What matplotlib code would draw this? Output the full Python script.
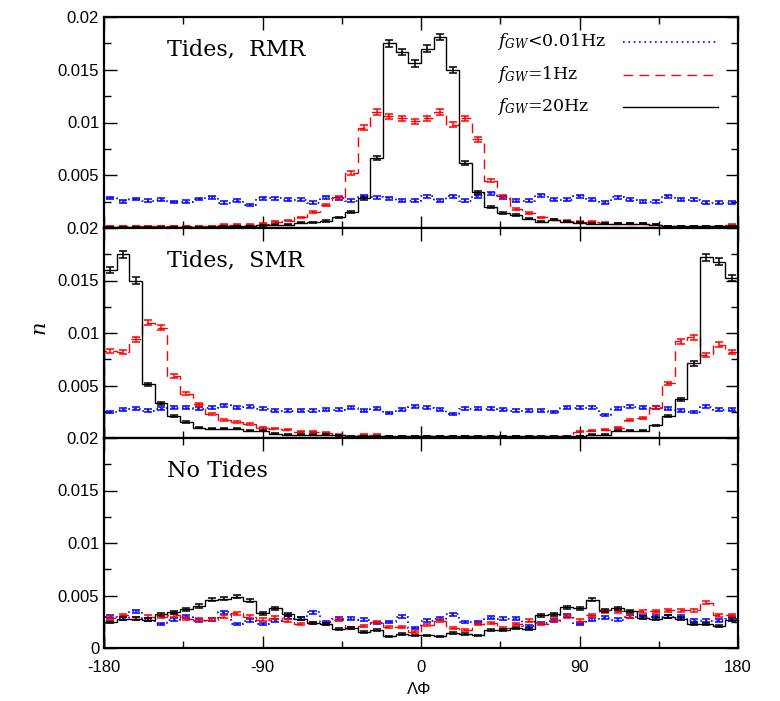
import numpy as np
import matplotlib
matplotlib.use("Agg")
import matplotlib.pyplot as plt

plt.rcParams['font.family'] = ['Liberation Sans', 'DejaVu Sans']
plt.rcParams['mathtext.fontset'] = 'dejavuserif'

# 50 bins of 7.2 deg from -180 to 180
edges = np.linspace(-180, 180, 51)
centers = 0.5 * (edges[1:] + edges[:-1])

# --- Tides, RMR ---
rmr_20hz = [0.0001, 0.0001, 0.0001, 0.0001, 0.0001, 0.0001, 0.0001, 0.0001, 0.0001, 0.00015,
            0.0002, 0.0002, 0.00025, 0.0003, 0.0003, 0.0005, 0.00055, 0.00067, 0.001, 0.0015,
            0.0028, 0.0066, 0.0175, 0.0167, 0.0156, 0.017, 0.0181, 0.015, 0.0062, 0.0034,
            0.002, 0.0014, 0.0012, 0.0009, 0.0006, 0.0008, 0.0006, 0.0005, 0.0004, 0.0004,
            0.0004, 0.0004, 0.0004, 0.0003, 0.0002, 0.0002, 0.0002, 0.0002, 0.0002, 0.0002]
rmr_1hz = [0.0002, 0.0002, 0.0002, 0.0002, 0.0002, 0.0002, 0.0002, 0.0002, 0.0002, 0.0003,
           0.0003, 0.0003, 0.0004, 0.0006, 0.0007, 0.001, 0.0015, 0.0022, 0.0029, 0.0052,
           0.0095, 0.011, 0.0106, 0.0104, 0.0101, 0.0104, 0.011, 0.0098, 0.0104, 0.0084,
           0.0045, 0.003, 0.0018, 0.0014, 0.001, 0.0008, 0.0007, 0.0006, 0.0006, 0.0005,
           0.0004, 0.0004, 0.0004, 0.0003, 0.0002, 0.0002, 0.0002, 0.0002, 0.0002, 0.0003]
rmr_low = [0.00285, 0.00253, 0.00275, 0.0026, 0.0027, 0.00244, 0.0025, 0.00275, 0.0029, 0.0024,
           0.0026, 0.0022, 0.0028, 0.0028, 0.0027, 0.0027, 0.0024, 0.0029, 0.0028, 0.0026,
           0.003, 0.0029, 0.0028, 0.0026, 0.0026, 0.003, 0.0026, 0.003, 0.0026, 0.003,
           0.0033, 0.0029, 0.0026, 0.0026, 0.0031, 0.0027, 0.0027, 0.003, 0.0027, 0.0024,
           0.0029, 0.0027, 0.0025, 0.0025, 0.003, 0.0027, 0.0027, 0.0024, 0.0024, 0.0024]

# --- Tides, SMR ---
smr_20hz = [0.016, 0.0175, 0.015, 0.0051, 0.0033, 0.0021, 0.0015, 0.001, 0.0009, 0.0009,
            0.0009, 0.0007, 0.0007, 0.0004, 0.0003, 0.0003, 0.0003, 0.0003, 0.00025, 0.0002,
            0.0002, 0.0002, 0.0002, 0.0002, 0.0002, 0.0002, 0.0002, 0.0002, 0.0002, 0.0002,
            0.0002, 0.0002, 0.0002, 0.00015, 0.00015, 0.00015, 0.00015, 0.0002, 0.0003, 0.0003,
            0.0007, 0.0007, 0.0007, 0.0012, 0.0021, 0.0037, 0.0071, 0.0172, 0.0168, 0.0152]
smr_1hz = [0.0083, 0.0082, 0.0094, 0.011, 0.0105, 0.0059, 0.0042, 0.0032, 0.0023, 0.0017,
           0.0015, 0.0013, 0.001, 0.0009, 0.0008, 0.0006, 0.0006, 0.0005, 0.0003, 0.0002,
           0.0003, 0.0003, 0.0002, 0.0002, 0.0002, 0.0002, 0.0002, 0.0002, 0.0002, 0.0002,
           0.0002, 0.0002, 0.0002, 0.0002, 0.0002, 0.0002, 0.0002, 0.0006, 0.0007, 0.0008,
           0.001, 0.0017, 0.0019, 0.0029, 0.0052, 0.0092, 0.0096, 0.0079, 0.0089, 0.0082]
smr_low = [0.0025, 0.0027, 0.0028, 0.0026, 0.0028, 0.0029, 0.0029, 0.0028, 0.0029, 0.0031,
           0.0029, 0.003, 0.0028, 0.0026, 0.0026, 0.0026, 0.0026, 0.0027, 0.0027, 0.0029,
           0.0026, 0.0028, 0.0024, 0.0027, 0.003, 0.0029, 0.0027, 0.0023, 0.0028, 0.0028,
           0.0028, 0.0027, 0.0026, 0.0026, 0.0026, 0.0025, 0.0029, 0.0029, 0.0029, 0.0022,
           0.0028, 0.003, 0.0029, 0.0029, 0.0028, 0.0026, 0.0025, 0.003, 0.0027, 0.0027]

# --- No Tides ---
not_20hz = [0.0025, 0.0028, 0.0028, 0.0027, 0.0032, 0.0034, 0.0037, 0.004, 0.0046, 0.0047,
            0.0049, 0.0045, 0.0033, 0.0038, 0.0032, 0.0028, 0.0024, 0.0023, 0.0018, 0.0019,
            0.0015, 0.0017, 0.0011, 0.0013, 0.0012, 0.0012, 0.0011, 0.0014, 0.0013, 0.0012,
            0.0017, 0.0017, 0.0019, 0.0018, 0.0031, 0.0032, 0.0039, 0.0038, 0.0046, 0.0036,
            0.0038, 0.0035, 0.0029, 0.0028, 0.003, 0.0028, 0.0023, 0.0023, 0.0021, 0.0027]
not_1hz = [0.0029, 0.0031, 0.0028, 0.003, 0.003, 0.0031, 0.0028, 0.0027, 0.0027, 0.003,
           0.0033, 0.003, 0.0027, 0.0029, 0.0026, 0.0023, 0.0024, 0.0023, 0.0027, 0.0019,
           0.0021, 0.0025, 0.002, 0.002, 0.0015, 0.0022, 0.0026, 0.0019, 0.0017, 0.0023,
           0.0024, 0.0019, 0.0023, 0.0026, 0.0023, 0.0027, 0.003, 0.0026, 0.0031, 0.0035,
           0.0035, 0.003, 0.0035, 0.0035, 0.0036, 0.0036, 0.0036, 0.0043, 0.0031, 0.0031]
not_low = [0.003, 0.0028, 0.0035, 0.0027, 0.0023, 0.0027, 0.003, 0.0026, 0.0027, 0.0034,
           0.0023, 0.0026, 0.0023, 0.0026, 0.0029, 0.0028, 0.0034, 0.0025, 0.0028, 0.0028,
           0.0027, 0.0024, 0.0025, 0.003, 0.0019, 0.0026, 0.0028, 0.0032, 0.0025, 0.0025,
           0.0029, 0.0028, 0.0028, 0.0021, 0.0024, 0.0026, 0.0031, 0.0023, 0.0027, 0.0029,
           0.0027, 0.003, 0.003, 0.003, 0.003, 0.003, 0.0026, 0.0026, 0.0026, 0.0028]

panel_titles = ["Tides,  RMR", "Tides,  SMR", "No Tides"]
panel_data = [(rmr_low, rmr_1hz, rmr_20hz),
              (smr_low, smr_1hz, smr_20hz),
              (not_low, not_1hz, not_20hz)]
legend_labels = [r"$f_{GW}$<0.01Hz", r"$f_{GW}$=1Hz", r"$f_{GW}$=20Hz"]

styles = [dict(color="blue", ls=(0, (1, 2.2)), lw=1.2),
          dict(color="red", ls=(0, (7, 4.5)), lw=1.0),
          dict(color="black", ls="-", lw=1.0)]

fig = plt.figure(figsize=(7.8, 7.01), dpi=100)
left, right = 104 / 780, 738 / 780
bounds_px = [17, 228, 438, 648]
axes = []
for k in range(3):
    top = 1 - bounds_px[k] / 701
    bot = 1 - bounds_px[k + 1] / 701
    ax = fig.add_axes([left, bot, right - left, top - bot])
    axes.append(ax)

for k, ax in enumerate(axes):
    for vals, st in zip(panel_data[k], styles):
        v = np.array(vals)
        # poisson-like error bars, scaled from the bars
        err = 0.00235 * np.sqrt(v)
        ax.stairs(v, edges, color=st["color"], linestyle=st["ls"], lw=st["lw"])
        ax.errorbar(centers, v, yerr=err, fmt="none", ecolor=st["color"],
                    elinewidth=1.1, capsize=3.0, capthick=1.1)

    ax.set_xlim(-180, 180)
    ax.set_ylim(0, 0.02)
    ax.set_xticks([-180, -90, 0, 90, 180])
    ax.set_xticks([-135, -45, 45, 135], minor=True)
    ax.set_yticks([0, 0.005, 0.01, 0.015, 0.02])
    ax.set_yticks([0.0025, 0.0075, 0.0125, 0.0175], minor=True)
    if k < 2:
        ax.set_yticklabels(["", "0.005", "0.01", "0.015", "0.02"])
        ax.set_xticklabels([])
    else:
        ax.set_yticklabels(["0", "0.005", "0.01", "0.015", "0.02"])
        ax.set_xticklabels(["-180", "-90", "0", "90", "180"])
    ax.tick_params(which="both", direction="in", top=True, right=True, labelsize=12)
    ax.tick_params(axis="x", pad=9)
    ax.tick_params(which="major", length=9, width=1.0)
    ax.tick_params(which="minor", length=5, width=1.0)
    for sp in ax.spines.values():
        sp.set_linewidth(1.6)
    ax.text(0.099, 0.845, panel_titles[k], transform=ax.transAxes,
            fontsize=16, family="DejaVu Serif", va="center", ha="left")

# legend drawn by hand: text left-aligned, line samples on the right
leg_y = [0.882, 0.727, 0.575]
for lab, st, yy in zip(legend_labels, styles, leg_y):
    axes[0].text(0.62, yy, lab, transform=axes[0].transAxes, fontsize=12.5,
                 family="DejaVu Serif", va="center", ha="left")
    axes[0].plot([0.819, 0.968], [yy, yy], transform=axes[0].transAxes,
                 color=st["color"], linestyle=st["ls"], lw=st["lw"])

fig.text(0.052, 0.53, "$n$", rotation=90, fontsize=15, ha="center", va="center")
fig.text(0.538, 0.016, "ΛΦ", fontsize=12, ha="center", va="center")

fig.savefig("out.png", dpi=100)
